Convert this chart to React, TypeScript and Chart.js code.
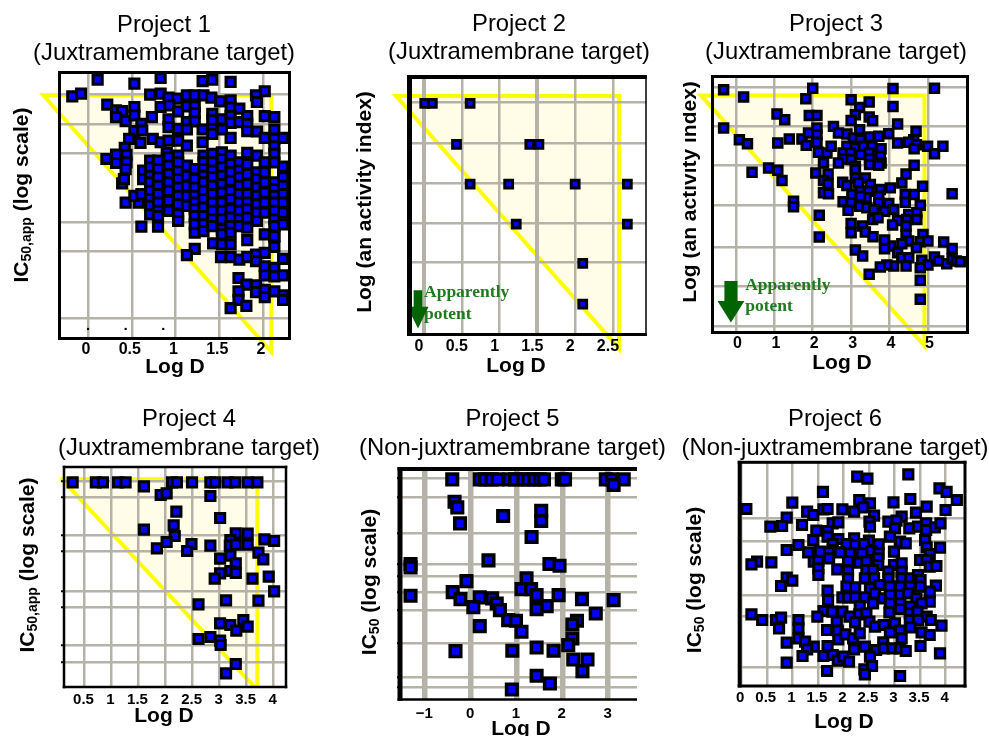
import React, { useEffect, useRef } from "react";
import { Chart, registerables } from "chart.js";

Chart.register(...registerables);

const SANS = '"Liberation Sans", Arial, sans-serif';
const SERIF = '"Liberation Serif", serif';
const GRID = "#b5b2a8";
const YELLOW = "#ffff00";
const PALE = "#fffde8";
const GREEN_ARROW = "#006400";
const GREEN_TEXT = "#1f7a1f";

type Pair = [number, number];

const juxta = "(Juxtramembrane target)";
const nonJuxta = "(Non-juxtramembrane target)";
const logDLabel = "Log D";
const activityLabel = [{ t: "Log (an activity index)" }];
const ic50appLabel = [{ t: "IC" }, { t: "50,app", sub: true }, { t: " (log scale)" }];
const ic50Label = [{ t: "IC" }, { t: "50", sub: true }, { t: " (log scale)" }];

/* ---------- Project 1 ---------- */
const p1XTicks = [0, 0.5, 1, 1.5, 2];
const p1YGrid = [7.32, 6.45, 5.58, 3.51, 2.64, 0.66];
const p1Triangle: Pair[] = [[-0.51, 7.3], [2.095, 7.3], [2.095, -0.35]];
const p1Specks: Pair[] = [[-0.42, 0.33], [0, 0.33], [0.43, 0.33], [0.86, 0.33]];
const p1Sparse: Pair[] = [
  [0.11, 7.77], [0.53, 7.65], [0.83, 7.82], [1.31, 7.72], [1.42, 7.77], [1.63, 7.7], [2.02, 7.42],
  [-0.18, 7.27], [-0.08, 7.35], [0.71, 7.32], [0.83, 7.35], [0.92, 7.23], [1.02, 7.2], [1.13, 7.3],
  [1.22, 7.3], [1.32, 7.3], [1.41, 7.23], [1.51, 7.12], [1.63, 7.15], [1.92, 7.3], [1.93, 7.1],
  [0.22, 7.02], [0.53, 6.95], [0.83, 6.95], [0.93, 7.0], [1.03, 6.82], [1.13, 6.97], [1.22, 6.97],
  [1.22, 6.77], [1.42, 6.75], [1.63, 6.93], [1.73, 6.9], [0.32, 6.85], [0.39, 6.83], [0.32, 6.65],
  [0.43, 6.53], [0.53, 6.7], [0.73, 6.65], [0.92, 6.58], [1.13, 6.5], [1.22, 6.52], [1.42, 6.55],
  [1.53, 6.58], [1.63, 6.68], [1.63, 6.48], [1.73, 6.5], [1.82, 6.68], [1.82, 6.45], [2.02, 6.68],
  [2.13, 6.65], [0.61, 6.45], [0.53, 6.23], [0.62, 6.25], [0.92, 6.35], [1.03, 6.3], [1.13, 6.28],
  [1.31, 6.28], [1.42, 6.3], [1.53, 6.28], [1.42, 6.15], [1.82, 6.23], [1.93, 6.22], [2.13, 6.28],
  [0.47, 6.0], [0.6, 5.88], [0.74, 6.0], [0.83, 5.9], [0.92, 5.95], [1.03, 5.95], [1.13, 5.8],
  [1.31, 5.9], [1.63, 6.03], [2.02, 6.03], [2.13, 6.0], [2.23, 6.03], [2.13, 5.78], [0.42, 5.73],
  [0.44, 5.52], [0.32, 5.53], [0.21, 5.4], [0.32, 5.28], [0.44, 5.3], [0.43, 5.1], [0.9, 5.58],
  [1.03, 5.5], [1.22, 2.72], [1.43, 2.88], [1.53, 2.85], [1.63, 2.85], [1.82, 2.98], [2.02, 3.15],
  [2.13, 3.1], [2.13, 2.78], [1.13, 2.53], [1.52, 2.47], [1.63, 2.47], [1.73, 2.4], [1.82, 2.47],
  [1.92, 2.55], [2.02, 2.6], [2.23, 2.42], [1.92, 2.35], [2.02, 2.2], [2.13, 2.15], [2.02, 1.93],
  [2.13, 1.9], [2.23, 1.93], [1.72, 1.85], [1.81, 1.65], [1.92, 1.63], [1.92, 1.43], [2.02, 1.5],
  [2.02, 1.28], [2.13, 1.45], [2.23, 1.33], [2.23, 1.2], [1.72, 1.45], [1.72, 1.2], [1.63, 0.95],
  [1.81, 1.02], [0.61, 3.38], [0.43, 4.1], [0.58, 4.1], [0.39, 4.67], [0.41, 4.8], [0.53, 4.3],
  [0.61, 4.35],
];
const p1Columns: [number, number[]][] = [
  [0.63, [5.05, 4.8]],
  [0.71, [5.35, 5.15, 4.9, 4.7, 4.45, 4.2, 4.0, 3.75]],
  [0.8, [5.35, 5.1, 4.85, 4.6, 4.35, 4.1, 3.85, 3.7, 3.38]],
  [0.92, [5.45, 5.2, 4.95, 4.7, 4.45, 4.15, 3.85]],
  [1.03, [5.3, 5.03, 4.8, 4.55, 4.3, 4.05, 3.75, 3.55]],
  [1.13, [5.2, 4.9, 4.6, 4.3, 4.0]],
  [1.22, [5.1, 4.8, 4.55, 4.3, 4.1, 3.9, 3.7, 3.45, 3.2]],
  [1.32, [5.5, 5.3, 5.1, 4.9, 4.7, 4.45, 4.2, 3.95, 3.7, 3.45, 3.25]],
  [1.42, [5.55, 5.3, 5.05, 4.85, 4.6, 4.35, 4.1, 3.85, 3.6, 3.4]],
  [1.53, [5.6, 5.4, 5.15, 4.9, 4.65, 4.4, 4.1, 3.85, 3.6, 3.3, 3.15]],
  [1.63, [5.5, 5.25, 5.0, 4.75, 4.45, 4.2, 3.9, 3.65, 3.4, 3.2]],
  [1.73, [5.3, 5.05, 4.85, 4.6, 4.35, 4.1, 3.85, 3.6, 3.4]],
  [1.82, [5.58, 5.25, 4.95, 4.65, 4.35, 4.1, 3.9, 3.65, 3.35]],
  [1.93, [5.5, 5.0, 4.8, 4.55, 4.3, 4.05, 3.8, 3.55]],
  [2.02, [5.3, 5.0, 4.7, 4.4, 4.1, 3.8]],
  [2.13, [5.55, 5.3, 4.7, 4.5, 4.3, 4.1, 3.85, 3.6, 3.4, 3.1]],
  [2.23, [5.17, 4.85, 4.6, 4.35, 4.1, 3.8, 3.45]],
];
const p1Values: Pair[] = [
  ...p1Sparse,
  ...p1Columns.flatMap(([x, ys]) => ys.map((y): Pair => [x, y])),
];

/* ---------- Project 2 ---------- */
const p2XTicks = [0, 0.5, 1, 1.5, 2, 2.5];
const p2YGrid = [6.97, 5.72, 4.54, 3.34, 2.16];
const p2Triangle: Pair[] = [[-0.37, 7.15], [2.58, 7.15], [2.58, -0.42]];
const p2Values: Pair[] = [
  [0.01, 6.93], [0.11, 6.93], [0.61, 6.93], [0.43, 5.7], [1.4, 5.7], [1.52, 5.7], [0.61, 4.51],
  [1.12, 4.51], [2.0, 4.51], [2.69, 4.51], [1.22, 3.31], [2.69, 3.31], [2.1, 2.13], [2.1, 0.91],
];

/* ---------- Project 3 ---------- */
const p3XTicks = [0, 1, 2, 3, 4, 5];
const p3YGrid = [7.42, 6.22, 5.05, 3.85, 2.6, 1.42, 0.22];
const p3Triangle: Pair[] = [[-0.91, 7.16], [4.91, 7.16], [4.91, -0.37]];
const p3Values: Pair[] = [
  [-0.32, 7.33], [0.2, 7.11], [2.0, 7.38], [1.82, 7.06], [4.09, 7.37], [5.17, 7.38], [3.0, 7.03],
  [3.47, 6.96], [3.22, 6.8], [4.09, 6.83], [1.07, 6.6], [1.27, 6.43], [1.91, 6.56], [2.11, 6.56],
  [3.11, 6.58], [3.47, 6.51], [3.56, 6.4], [3.0, 6.41], [4.21, 6.3], [-0.32, 6.18], [0.09, 5.83],
  [0.3, 5.71], [1.09, 5.73], [1.39, 5.85], [1.72, 5.85], [1.83, 5.66], [1.89, 6.03], [2.11, 6.18],
  [2.11, 5.98], [2.11, 5.75], [2.15, 5.45], [2.37, 5.43], [2.48, 5.63], [2.54, 6.23], [2.67, 6.03],
  [2.89, 6.0], [3.22, 6.13], [3.48, 5.91], [3.72, 5.93], [3.98, 6.01], [4.69, 6.08], [4.63, 5.83],
  [4.5, 5.75], [4.7, 5.68], [4.21, 5.73], [4.64, 5.56], [4.99, 5.63], [5.39, 5.63], [5.17, 5.41],
  [3.06, 5.88], [3.24, 5.83], [2.89, 5.63], [3.11, 5.58], [3.32, 5.63], [3.54, 5.63], [3.78, 5.56],
  [2.79, 5.43], [2.98, 5.43], [3.24, 5.38], [3.47, 5.43], [3.76, 5.33], [2.8, 5.25], [3.0, 5.23],
  [3.48, 5.25], [3.78, 5.13], [2.67, 5.13], [3.48, 5.08], [3.72, 5.06], [2.28, 5.13], [3.11, 5.03],
  [4.64, 5.06], [4.43, 4.8], [4.32, 4.53], [4.86, 4.43], [5.63, 4.2], [0.42, 4.85], [0.85, 4.98],
  [1.09, 4.91], [1.2, 4.6], [2.08, 4.83], [2.4, 4.8], [2.28, 4.6], [2.4, 4.5], [2.28, 4.23],
  [2.41, 4.2], [3.11, 4.93], [3.11, 4.68], [3.37, 4.68], [2.78, 4.55], [2.89, 4.45], [3.19, 4.53],
  [3.5, 4.48], [3.02, 4.18], [3.24, 4.28], [3.45, 4.28], [3.76, 4.33], [4.02, 4.38], [3.72, 4.13],
  [3.39, 4.08], [3.24, 4.13], [4.41, 4.18], [4.64, 4.18], [4.41, 3.95], [4.8, 3.86], [3.98, 3.91],
  [2.79, 3.96], [3.0, 3.93], [2.92, 3.71], [3.22, 3.83], [3.41, 3.78], [3.72, 3.93], [3.59, 3.73],
  [1.5, 3.98], [1.5, 3.81], [2.17, 3.56], [3.87, 3.68], [4.11, 3.73], [4.5, 3.58], [4.71, 3.63],
  [3.56, 3.43], [3.7, 3.48], [4.21, 3.4], [4.45, 3.43], [4.71, 3.43], [4.08, 3.26], [4.43, 3.23],
  [3.0, 3.31], [3.0, 3.03], [3.3, 3.23], [3.37, 3.05], [3.57, 2.91], [2.17, 2.9], [4.43, 2.98],
  [4.87, 2.98], [4.5, 2.78], [4.32, 2.7], [4.8, 2.76], [5.0, 2.78], [5.41, 2.75], [5.63, 2.56],
  [4.7, 2.58], [4.02, 2.63], [3.87, 2.81], [3.87, 2.55], [3.11, 2.51], [3.3, 2.33], [4.21, 2.43],
  [4.32, 2.28], [4.5, 2.28], [4.84, 2.2], [5.17, 2.3], [5.28, 2.18], [5.49, 2.1], [5.63, 2.25],
  [5.74, 2.18], [5.84, 2.16], [5.0, 2.06], [4.8, 1.98], [4.11, 2.03], [4.43, 2.03], [3.93, 2.06],
  [3.76, 2.0], [3.47, 1.78], [4.8, 1.6], [4.8, 1.03],
];

/* ---------- Project 4 ---------- */
const p4XTicks = [0.5, 1, 1.5, 2, 2.5, 3, 3.5, 4];
const p4YGrid = [6.2, 5.72, 4.57, 4.1, 2.89, 2.41, 1.27, 0.76];
const p4Triangle: Pair[] = [[0.08, 6.25], [3.7, 6.25], [3.7, -0.07]];
const p4Values: Pair[] = [
  [0.28, 6.16], [0.71, 6.16], [0.84, 6.16], [1.12, 6.16], [1.26, 6.16], [2.12, 6.16], [2.21, 6.16],
  [2.49, 6.16], [2.83, 6.16], [2.92, 6.16], [3.15, 6.16], [3.29, 6.16], [3.52, 6.16], [3.7, 6.16],
  [1.6, 6.04], [1.91, 5.78], [2.02, 5.83], [2.83, 5.75], [2.2, 5.28], [3.01, 5.09], [2.15, 4.87],
  [1.6, 4.74], [2.17, 4.55], [3.3, 4.63], [3.52, 4.62], [3.2, 4.43], [3.83, 4.45], [4.01, 4.4],
  [2.02, 4.37], [2.48, 4.31], [2.83, 4.26], [1.84, 4.18], [2.4, 4.1], [3.19, 4.26], [3.3, 4.29],
  [3.52, 4.29], [3.72, 4.05], [3.2, 3.96], [3.01, 3.87], [3.81, 3.85], [3.3, 3.73], [3.2, 3.5],
  [3.3, 3.44], [3.01, 3.43], [2.91, 3.27], [3.61, 3.27], [3.91, 3.33], [4.01, 2.89], [2.61, 2.5],
  [3.12, 2.62], [3.72, 2.61], [3.01, 1.93], [3.2, 1.88], [3.31, 1.71], [3.44, 2.03], [3.52, 1.83],
  [2.61, 1.46], [2.83, 1.52], [3.01, 1.41], [3.02, 1.28], [3.3, 0.71], [3.12, 0.43],
];

/* ---------- Project 5 ---------- */
const p5XTicks = [-1, 0, 1, 2, 3];
const p5YGrid = [6.63, 6.06, 4.98, 4.05, 3.7, 3.23, 2.67, 1.68, 0.68, 0.38];
const p5Values: Pair[] = [
  [-0.4, 6.6], [0.2, 6.6], [0.31, 6.6], [0.46, 6.6], [0.59, 6.6], [0.84, 6.6], [0.97, 6.6],
  [1.15, 6.6], [1.26, 6.6], [1.39, 6.6], [1.51, 6.6], [1.6, 6.6], [1.99, 6.6], [2.06, 6.6],
  [2.95, 6.6], [3.08, 6.6], [3.34, 6.6], [3.12, 6.43], [-0.35, 5.93], [-0.29, 5.76], [-0.23, 5.28],
  [0.71, 5.5], [1.54, 5.66], [1.54, 5.35], [1.33, 4.87], [0.39, 4.17], [-1.31, 4.06], [-1.31, 3.96],
  [1.72, 4.06], [1.94, 4.01], [-0.09, 3.55], [1.22, 3.63], [-1.31, 3.11], [-0.39, 3.22], [-0.22, 3.01],
  [0.2, 3.06], [0.47, 3.03], [0.57, 2.88], [0.64, 2.68], [0.06, 2.77], [1.11, 3.31], [1.32, 3.31],
  [1.44, 3.13], [1.92, 3.13], [2.43, 3.01], [3.12, 2.98], [1.66, 2.8], [1.44, 2.71], [2.73, 2.58],
  [0.82, 2.38], [0.99, 2.36], [1.11, 2.03], [0.2, 2.2], [2.32, 2.36], [2.22, 2.25], [2.22, 1.83],
  [2.13, 1.63], [1.44, 1.56], [1.81, 1.46], [-0.33, 1.45], [0.91, 1.46], [2.24, 1.2], [2.55, 1.2],
  [2.44, 0.85], [1.44, 0.71], [1.73, 0.48], [0.9, 0.3],
];

/* ---------- Project 6 ---------- */
const p6XTicks = [0, 0.5, 1, 1.5, 2, 2.5, 3, 3.5, 4];
const p6YGrid = [5.06, 4.37, 2.75, 2.12, 0.57];
const p6Values: Pair[] = [
  [2.27, 6.3], [2.47, 6.24], [3.27, 6.37], [3.88, 5.95], [4.02, 5.84], [4.22, 5.6], [1.6, 5.84],
  [2.31, 5.6], [3.31, 5.63], [2.52, 5.5], [2.98, 5.53], [1.0, 5.52], [0.1, 5.33], [1.29, 5.25],
  [1.41, 5.15], [1.61, 5.32], [1.69, 5.33], [1.98, 5.32], [2.21, 5.25], [2.39, 5.38], [3.63, 5.4],
  [4.0, 5.3], [3.42, 5.22], [0.89, 5.07], [2.6, 5.13], [3.14, 5.1], [0.57, 4.8], [0.8, 4.82],
  [1.19, 4.85], [1.79, 4.9], [1.9, 4.93], [2.51, 4.95], [2.52, 4.8], [2.88, 4.95], [3.04, 4.98],
  [3.01, 4.75], [3.29, 4.75], [3.46, 4.8], [3.62, 4.9], [3.62, 4.7], [3.79, 4.78], [3.9, 4.9],
  [1.47, 4.68], [1.69, 4.67], [1.69, 4.5], [1.41, 4.4], [1.9, 4.43], [2.21, 4.45], [2.5, 4.38],
  [2.91, 4.5], [3.11, 4.35], [3.22, 4.3], [3.6, 4.4], [3.63, 4.18], [3.89, 4.17], [1.12, 4.25],
  [0.89, 4.1], [1.31, 4.03], [1.79, 4.28], [1.79, 4.1], [2.06, 4.28], [2.23, 4.25], [2.4, 4.28],
  [2.69, 4.27], [2.55, 4.07], [2.69, 4.0], [2.99, 4.05], [3.69, 3.98], [1.54, 4.05], [1.72, 4.03],
  [1.93, 4.03], [2.13, 4.0], [2.36, 4.0], [0.31, 3.75], [0.2, 3.67], [0.59, 3.73], [1.42, 3.75],
  [1.51, 3.77], [1.72, 3.85], [2.09, 3.77], [2.31, 3.72], [2.45, 3.75], [2.68, 3.85], [2.68, 3.65],
  [2.99, 3.65], [3.14, 3.7], [3.5, 3.8], [3.63, 3.8], [3.69, 3.6], [3.82, 3.62], [1.51, 3.55],
  [1.88, 3.52], [2.09, 3.48], [1.51, 3.35], [2.45, 3.5], [2.58, 3.5], [2.88, 3.45], [3.14, 3.45],
  [0.89, 3.27], [1.0, 3.18], [0.78, 3.02], [2.09, 3.25], [2.42, 3.25], [2.6, 3.25], [2.88, 3.25],
  [3.14, 3.25], [3.31, 3.25], [3.46, 3.35], [3.51, 3.2], [2.06, 3.0], [2.23, 2.98], [2.52, 2.95],
  [2.71, 3.05], [2.91, 3.0], [3.11, 3.0], [3.3, 3.0], [3.5, 3.0], [3.81, 3.03], [1.69, 2.88],
  [1.7, 2.6], [1.98, 2.68], [2.09, 2.68], [2.23, 2.68], [2.42, 2.68], [2.62, 2.8], [2.78, 2.65],
  [2.91, 2.75], [3.11, 2.75], [3.27, 2.8], [3.43, 2.65], [3.69, 2.85], [3.69, 2.55], [2.32, 2.42],
  [2.58, 2.5], [2.91, 2.5], [3.11, 2.5], [3.3, 2.4], [3.53, 2.5], [1.61, 2.27], [1.78, 2.25],
  [1.98, 2.25], [2.31, 2.17], [2.45, 2.2], [2.9, 2.23], [3.11, 2.33], [3.3, 2.2], [3.45, 2.25],
  [3.63, 2.1], [0.2, 2.17], [0.41, 2.0], [1.49, 2.1], [2.12, 2.1], [0.68, 2.0], [0.78, 2.07],
  [0.74, 1.75], [1.12, 2.0], [1.12, 1.75], [1.87, 1.95], [2.23, 1.93], [2.51, 1.95], [2.62, 1.8],
  [2.79, 1.85], [3.01, 1.9], [3.3, 2.0], [3.46, 2.0], [3.71, 2.0], [3.92, 1.83], [1.68, 1.7],
  [1.89, 1.68], [2.91, 1.63], [3.11, 1.68], [3.31, 1.78], [3.53, 1.63], [3.69, 1.55], [1.9, 1.42],
  [2.04, 1.57], [2.19, 1.45], [2.32, 1.6], [2.78, 1.33], [3.14, 1.45], [0.89, 1.32], [1.12, 1.45],
  [1.25, 1.35], [1.42, 1.2], [1.29, 1.12], [1.69, 1.22], [2.21, 1.12], [2.42, 1.2], [2.64, 1.1],
  [2.79, 1.15], [2.96, 1.15], [3.11, 1.15], [3.22, 1.07], [3.51, 1.22], [3.89, 1.0], [1.2, 0.92],
  [1.61, 0.92], [1.79, 0.95], [1.89, 0.78], [2.0, 0.9], [2.11, 0.75], [2.52, 0.9], [0.89, 0.72],
  [1.68, 0.47], [2.41, 0.52], [2.56, 0.62], [2.42, 0.37], [3.11, 0.32],
];

/* ---------- Panel layout ---------- */
const panels: any[] = [
  {
    title: ["Project 1", juxta], box: [0, 0, 328, 390], area: [59.5, 72.5, 289.5, 338.5],
    xRange: [-0.326, 2.303], yRange: [0.045, 7.98], xTicks: p1XTicks, yGrid: p1YGrid, values: p1Values,
    triangle: p1Triangle, specks: p1Specks, frame: [3, 3, 3, 3], titleTop: 11, tickSize: 16, labelShift: -2,
    tickPad: 1, radius: 6.5, border: 3, xTitleAt: [175, 367], yTitleAt: [22, 195], yTitle: ic50appLabel, gridW: 2.5,
  },
  {
    title: ["Project 2", juxta], box: [340, 0, 358, 390], area: [409.5, 77, 646, 334.5],
    xRange: [-0.192, 2.937], yRange: [0, 7.72], xTicks: p2XTicks, yGrid: p2YGrid, values: p2Values,
    triangle: p2Triangle, frame: [4, 1.5, 3, 5], titleTop: 10, tickSize: 16, labelShift: -5,
    tickPad: 2, radius: 5.5, border: 3, xTitleAt: [516, 366], yTitleAt: [365, 202], yTitle: activityLabel, gridW: 2.5,
    gridWX: [4, 2.5, 2.5, 4, 2.5, 2.5],
    potent: { x: 0, y1: 1.25, y2: 0.6, ax: -0.08, top: 1.33, head: 0.83, tip: 0.18, shaft: 0.057, wing: 0.14 },
  },
  {
    title: ["Project 3", juxta], box: [683, 0, 306, 390], area: [712.5, 76.5, 967.5, 332.5],
    xRange: [-0.61, 6.03], yRange: [0.03, 7.73], xTicks: p3XTicks, yGrid: p3YGrid, values: p3Values,
    triangle: p3Triangle, frame: [3, 3, 3, 3], titleTop: 10, tickSize: 16, labelShift: 1.5,
    tickPad: 1, radius: 6, border: 3, xTitleAt: [842, 363], yTitleAt: [690, 192], yTitle: activityLabel, gridW: 2.5,
    potent: { x: 0.24, y1: 1.45, y2: 0.81, ax: -0.13, top: 1.58, head: 0.98, tip: 0.33, shaft: 0.17, wing: 0.35 },
  },
  {
    title: ["Project 4", juxta], box: [0, 390, 378, 346], area: [64, 467, 286, 687],
    xRange: [0.12, 4.23], yRange: [0.02, 6.62], xTicks: p4XTicks, yGrid: p4YGrid, values: p4Values,
    triangle: p4Triangle, clipTriangle: true, frame: [2.5, 2.5, 2.5, 2.5], titleTop: 15.5, tickSize: 15, labelShift: -1,
    tickPad: 4, radius: 6.5, border: 3, tickLen: 3, xTitleAt: [164, 716], yTitleAt: [28, 565], yTitle: ic50appLabel, gridW: 2.5,
  },
  {
    title: ["Project 5", nonJuxta], box: [340, 390, 345, 346], area: [400, 469, 637, 699.5],
    xRange: [-1.54, 3.63], yRange: [0, 6.91], xTicks: p5XTicks, yGrid: p5YGrid, values: p5Values,
    frame: [4, 0, 2.5, 5], titleTop: 15.5, tickSize: 15, labelShift: -0.5, radius: 7.5, border: 3.5,
    tickPad: 5, tickLen: 3, xTitleAt: [521, 729], yTitleAt: [370, 582], yTitle: ic50Label, gridW: 2.5,
    gridWX: [5.5, 5.5, 5.5, 5.5, 5.5],
  },
  {
    title: ["Project 6", nonJuxta], box: [670, 390, 330, 346], area: [739.7, 462.3, 965, 686],
    xRange: [-0.03, 4.38], yRange: [0.02, 6.73], xTicks: p6XTicks, yGrid: p6YGrid, values: p6Values,
    frame: [3, 3, 3, 4], titleTop: 15.5, tickSize: 15, labelShift: -1, radius: 6.5, border: 3,
    tickPad: 3, xTitleAt: [844, 722], yTitleAt: [695, 580], yTitle: ic50Label, gridW: 2.5,
  },
];

const TITLE_SIZE = 23.8;

const decorate = {
  id: "decorate",
  beforeDraw(chart: any) {
    const p = chart.options.plugins.decorate.panel;
    if (!p.triangle) return;
    const { ctx, chartArea: a, scales } = chart;
    const pts = p.triangle.map(([x, y]: Pair) => [scales.x.getPixelForValue(x), scales.y.getPixelForValue(y)]);
    const path = () => {
      ctx.beginPath();
      pts.forEach(([x, y]: number[], i: number) => (i ? ctx.lineTo(x, y) : ctx.moveTo(x, y)));
      ctx.closePath();
    };
    ctx.save();
    ctx.save();
    ctx.beginPath();
    ctx.rect(a.left, a.top, a.right - a.left, a.bottom - a.top);
    ctx.clip();
    path();
    ctx.fillStyle = PALE;
    ctx.fill();
    ctx.restore();
    if (p.clipTriangle) {
      ctx.beginPath();
      ctx.rect(a.left - 4, a.top, a.right - a.left + 4, a.bottom - a.top);
      ctx.clip();
    }
    path();
    ctx.lineWidth = 4;
    ctx.strokeStyle = YELLOW;
    ctx.lineJoin = "miter";
    ctx.stroke();
    ctx.restore();
  },
  beforeDatasetsDraw(chart: any) {
    const p = chart.options.plugins.decorate.panel;
    const { ctx, chartArea: a, scales } = chart;
    ctx.save();
    if (p.potent) {
      const g = p.potent;
      const X = (v: number) => scales.x.getPixelForValue(v);
      const Y = (v: number) => scales.y.getPixelForValue(v);
      ctx.fillStyle = GREEN_TEXT;
      ctx.font = `bold 17.5px ${SERIF}`;
      ctx.textAlign = "left";
      ctx.textBaseline = "middle";
      ctx.fillText("Apparently", X(g.x), Y(g.y1));
      ctx.fillText("potent", X(g.x), Y(g.y2));
      ctx.fillStyle = GREEN_ARROW;
      ctx.beginPath();
      ctx.moveTo(X(g.ax - g.shaft), Y(g.top));
      ctx.lineTo(X(g.ax + g.shaft), Y(g.top));
      ctx.lineTo(X(g.ax + g.shaft), Y(g.head));
      ctx.lineTo(X(g.ax + g.wing), Y(g.head));
      ctx.lineTo(X(g.ax), Y(g.tip));
      ctx.lineTo(X(g.ax - g.wing), Y(g.head));
      ctx.lineTo(X(g.ax - g.shaft), Y(g.head));
      ctx.closePath();
      ctx.fill();
    }
    const [ft, fr, fb, fl] = p.frame;
    ctx.fillStyle = "#000";
    const l = a.left - fl / 2;
    const r = a.right + fr / 2;
    const t = a.top - ft / 2;
    const b = a.bottom + fb / 2;
    ctx.fillRect(l, t, r - l, ft);
    ctx.fillRect(l, b - fb, r - l, fb);
    ctx.fillRect(l, t, fl, b - t);
    if (fr) ctx.fillRect(r - fr, t, fr, b - t);
    ctx.restore();
  },
  afterDraw(chart: any) {
    const p = chart.options.plugins.decorate.panel;
    const { ctx } = chart;
    const [bx, by] = p.box;
    ctx.save();
    ctx.fillStyle = "#000";
    ctx.textBaseline = "middle";
    ctx.textAlign = "center";
    ctx.font = `bold 21px ${SANS}`;
    ctx.fillText(logDLabel, p.xTitleAt[0] - bx, p.xTitleAt[1] - by);
    ctx.translate(p.yTitleAt[0] - bx, p.yTitleAt[1] - by);
    ctx.rotate(-Math.PI / 2);
    ctx.textAlign = "left";
    const fontOf = (s: any) => `bold ${s.sub ? 14 : 21}px ${SANS}`;
    const total = p.yTitle.reduce((sum: number, s: any) => {
      ctx.font = fontOf(s);
      return sum + ctx.measureText(s.t).width;
    }, 0);
    let cursor = -total / 2;
    p.yTitle.forEach((s: any) => {
      ctx.font = fontOf(s);
      ctx.fillText(s.t, cursor, s.sub ? 5 : 0);
      cursor += ctx.measureText(s.t).width;
    });
    ctx.restore();
  },
};

function Panel({ p }: { p: any }) {
  const ref = useRef<HTMLCanvasElement>(null);
  useEffect(() => {
    const [bx, by, bw, bh] = p.box;
    const [al, at, ar, ab] = p.area;
    const titleTop = p.titleTop;
    const lineH = TITLE_SIZE * 1.2;
    const datasets: any[] = [
      {
        label: p.title[0],
        data: p.values.map(([x, y]: Pair) => ({ x, y })),
        pointStyle: "rect",
        pointRadius: p.radius,
        pointBorderWidth: p.border ?? 2.5,
        pointBackgroundColor: "#0000ff",
        pointBorderColor: "#000000",
        showLine: false,
        clip: false,
      },
    ];
    if (p.specks) {
      datasets.push({
        label: "ticks",
        data: p.specks.map(([x, y]: Pair) => ({ x, y })),
        pointStyle: "rect",
        pointRadius: 1.5,
        pointBorderWidth: 0,
        pointBackgroundColor: "#000000",
        showLine: false,
        clip: false,
      });
    }
    const chart = new Chart(ref.current as HTMLCanvasElement, {
      type: "scatter",
      data: { datasets },
      plugins: [decorate],
      options: {
        responsive: false,
        animation: false,
        layout: { autoPadding: false, padding: 0 },
        plugins: {
          legend: { display: false },
          tooltip: { enabled: false },
          title: {
            display: true,
            text: p.title,
            color: "#000",
            font: { family: SANS, size: TITLE_SIZE, weight: "normal", lineHeight: 1.2 },
            padding: { top: titleTop, bottom: at - by - titleTop - 2 * lineH },
          },
          decorate: { panel: p },
        },
        scales: {
          x: {
            type: "linear",
            min: p.xRange[0],
            max: p.xRange[1],
            afterBuildTicks: (s: any) => {
              s.ticks = p.xTicks.map((value: number) => ({ value }));
            },
            afterFit: (s: any) => {
              s.height = by + bh - ab;
            },
            border: { display: false },
            grid: {
              color: GRID,
              drawTicks: false,
              lineWidth: (c: any) => (p.gridWX ? p.gridWX[c.index] ?? p.gridW : p.gridW),
            },
            ticks: {
              autoSkip: false,
              maxRotation: 0,
              color: "#000",
              padding: p.tickPad,
              labelOffset: p.labelShift,
              font: { family: SANS, size: p.tickSize, weight: "bold" },
              callback: (v: number) => (v < 0 ? `\u2212${Math.abs(v)}` : String(v)),
            },
          },
          y: {
            type: "linear",
            min: p.yRange[0],
            max: p.yRange[1],
            afterBuildTicks: (s: any) => {
              s.ticks = p.yGrid.map((value: number) => ({ value }));
            },
            afterFit: (s: any) => {
              s.width = al - bx;
            },
            border: { display: false },
            grid: {
              color: GRID,
              lineWidth: p.gridW,
              drawTicks: !!p.tickLen,
              tickLength: p.tickLen ?? 0,
              tickColor: "#000",
              tickWidth: 2,
            },
            ticks: { display: false, autoSkip: false },
          },
          gutter: {
            type: "linear",
            axis: "y",
            position: "right",
            afterFit: (s: any) => {
              s.width = bx + bw - ar;
            },
            border: { display: false },
            grid: { display: false, drawTicks: false },
            ticks: { display: false },
          },
        },
      } as any,
    });
    return () => chart.destroy();
  }, [p]);
  const [bx, by, bw, bh] = p.box;
  return (
    <canvas
      ref={ref}
      width={bw}
      height={bh}
      style={{ position: "absolute", left: bx, top: by, width: bw, height: bh, display: "block" }}
    />
  );
}

export default function App() {
  return (
    <div style={{ position: "absolute", left: 0, top: 0, width: 989, height: 736, overflow: "hidden", background: "#fff" }}>
      {panels.map((p) => (
        <Panel key={p.title[0]} p={p} />
      ))}
    </div>
  );
}
